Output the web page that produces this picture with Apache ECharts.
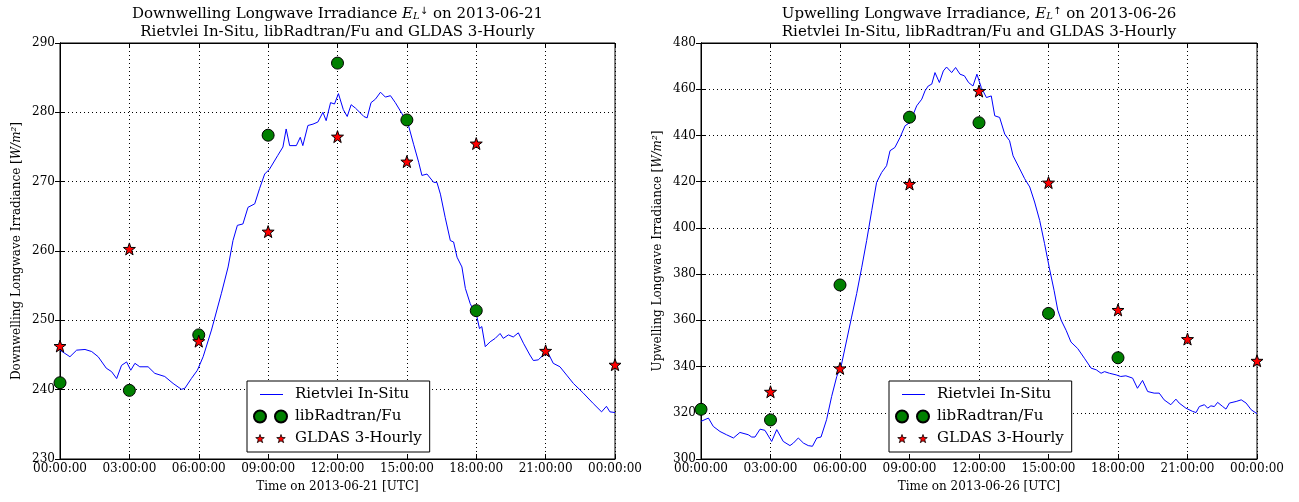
<!DOCTYPE html>
<html>
	<head>
		<meta charset="utf-8">
		<title>Longwave irradiance</title>
		<style type="text/css">
			* {
				margin: 0;
				padding: 0;
			}

			html,
			body {
				width: 100%;
				height: 100%;
				background: #fff;
			}

			#box {
				width: 1299px;
				height: 502px;
			}
		</style>
	</head>
	<body>
		<div id="box"></div>
		<script src="https://cdn.jsdelivr.net/npm/echarts@6/dist/echarts.min.js"></script>
		<script type="text/javascript">
			// hours of the 3-hourly model output
			var modelHours = [0, 3, 6, 9, 12, 15, 18, 21, 24]

			// 2013-06-21 downwelling
			var dnFu = [241.0, 239.9, 247.9, 276.7, 287.1, 278.9, 251.4, null, null]
			var dnGldas = [246.3, 260.3, 247.0, 262.8, 276.5, 272.9, 275.5, 245.6, 243.6]
			var dnTime = [0, 0.43, 0.72, 1.08, 1.37, 1.65, 2.0, 2.23, 2.45, 2.66, 2.88, 3.06, 3.24, 3.45, 3.81, 4.1, 4.53, 4.89, 5.25, 5.4,
				5.68, 5.94, 6.19, 6.55, 6.98, 7.27, 7.48, 7.67, 7.91, 8.13, 8.42, 8.63, 8.85, 9.06, 9.42, 9.64, 9.78, 9.93, 10.22, 10.39,
				10.5, 10.72, 10.94, 11.15, 11.37, 11.51, 11.7, 11.87, 12.04, 12.25, 12.42, 12.59, 12.78, 12.99, 13.14, 13.28, 13.45, 13.64,
				13.86, 14.07, 14.29, 14.5, 14.79, 15.07, 15.29, 15.51, 15.65, 15.87, 16.16, 16.3, 16.45, 16.66, 16.88, 17.02, 17.17, 17.38,
				17.53, 17.74, 18.03, 18.14, 18.24, 18.39, 18.6, 18.82, 19.03, 19.17, 19.39, 19.6, 19.82, 20.04, 20.32, 20.47, 20.68, 20.9,
				21.12, 21.33, 21.62, 21.91, 22.2, 22.63, 23.06, 23.42, 23.63, 23.78, 24
			]
			var dnInSitu = [245.7, 244.75, 245.7, 245.8, 245.5, 244.75, 243.1, 242.6, 241.6, 243.5, 244.0, 242.8, 243.8, 243.3, 243.3, 242.35,
				241.9, 240.9, 240.05, 240.2, 241.6, 242.8, 244.75, 248.6, 253.9, 257.7, 261.5, 263.7, 263.9, 266.3, 266.8, 269.0, 271.1,
				271.8, 273.8, 275.0, 277.6, 275.2, 275.2, 276.4, 275.2, 278.1, 278.3, 278.6, 280.0, 278.8, 281.4, 281.2, 282.7, 280.4,
				279.4, 281.1, 280.6, 279.9, 279.4, 279.2, 281.4, 281.9, 282.9, 282.2, 282.4, 281.4, 279.8, 278.1, 275.4, 272.8, 270.9,
				271.1, 269.9, 269.9, 268.2, 264.8, 261.5, 261.3, 259.1, 257.7, 254.6, 252.4, 250.5, 248.8, 249.1, 246.2, 246.9, 247.4,
				248.1, 247.4, 247.9, 247.6, 248.2, 246.7, 245.0, 244.2, 244.3, 245.0, 245.2, 243.8, 243.3, 242.1, 240.9, 239.5, 238.0,
				236.8, 237.6, 236.8, 236.7
			]

			// 2013-06-26 upwelling
			var upFu = [321.5, 316.9, 375.3, 447.9, 445.5, 363.0, 343.8, null, null]
			var upGldas = [null, 329.1, 339.2, 419.0, 459.2, 419.6, 364.5, 351.9, 342.5]
			var upTime = [0, 0.32, 0.53, 0.82, 1.1, 1.4, 1.68, 2.04, 2.19, 2.33, 2.55, 2.76, 3.05, 3.27, 3.55, 3.84, 3.99, 4.2, 4.42, 4.63,
				4.81, 5.0, 5.18, 5.42, 5.64, 5.86, 6.06, 6.29, 6.5, 6.72, 6.94, 7.15, 7.37, 7.58, 7.8, 8.01, 8.16, 8.37, 8.59, 8.81, 9.02,
				9.31, 9.53, 9.67, 9.81, 9.96, 10.1, 10.29, 10.46, 10.6, 10.82, 10.99, 11.18, 11.37, 11.55, 11.74, 11.91, 12.1, 12.32,
				12.53, 12.68, 12.89, 13.11, 13.32, 13.47, 13.76, 13.97, 14.19, 14.4, 14.62, 14.83, 15.03, 15.24, 15.4, 15.55, 15.76,
				15.97, 16.26, 16.55, 16.84, 17.06, 17.27, 17.42, 17.63, 17.92, 18.12, 18.34, 18.63, 18.84, 19.06, 19.28, 19.56, 19.78,
				19.99, 20.28, 20.5, 20.64, 20.93, 21.22, 21.37, 21.51, 21.73, 21.87, 22.01, 22.16, 22.3, 22.52, 22.66, 22.81, 23.1,
				23.32, 23.53, 23.75, 24
			]
			var upInSitu = [316.3, 317.7, 314.1, 311.9, 310.5, 309.1, 311.5, 310.5, 309.5, 309.5, 312.9, 312.4, 307.6, 312.7, 307.6, 305.8,
				306.9, 309.1, 306.9, 305.8, 305.5, 309.1, 309.5, 317.0, 327.1, 335.7, 340.7, 351.5, 361.4, 371.6, 383.0, 394.5, 407.5,
				419.7, 424.0, 426.9, 433.4, 434.8, 439.1, 444.2, 445.6, 452.8, 455.7, 459.3, 461.4, 462.2, 467.2, 462.9, 467.9, 469.6,
				467.2, 469.4, 466.5, 465.8, 462.9, 461.4, 466.5, 460.7, 456.4, 457.1, 448.5, 447.8, 440.6, 437.7, 431.2, 425.5, 421.3,
				417.7, 411.2, 403.2, 393.2, 383.0, 373.0, 364.4, 360.0, 355.7, 350.6, 347.8, 343.6, 339.3, 338.6, 337.1, 337.8, 337.1,
				336.4, 335.7, 336.0, 335.0, 330.6, 334.0, 329.2, 328.5, 328.5, 325.6, 323.5, 325.9, 324.2, 322.0, 320.6, 320.1, 322.7,
				323.5, 322.0, 323.0, 322.7, 324.5, 322.7, 321.6, 324.2, 324.9, 325.6, 324.2, 321.3, 319.6
			]

			var serif = 'DejaVu Serif'

			function pairs(xs, ys) {
				var out = []
				for (let i = 0; i < xs.length; i++) {
					if (ys[i] != null) out.push([xs[i], ys[i]])
				}
				return out
			}

			function starPath(cx, cy, R) {
				// five point star
				var p = []
				for (let k = 0; k < 10; k++) {
					var r = k % 2 == 0 ? R : R * 0.4
					var a = (-90 + k * 36) * Math.PI / 180
					p.push((cx + r * Math.cos(a)).toFixed(2) + ',' + (cy + r * Math.sin(a)).toFixed(2))
				}
				return 'M' + p.join('L') + 'Z'
			}

			var starIcon = 'path://' + starPath(6, 6, 6)
			// legend icons: 38x12 boxes, two marks each like matplotlib numpoints=2
			var twoStars = 'path://M0,0L0.01,0M38,12L37.99,12' + starPath(8, 6.5, 4.5) + starPath(29, 6.5, 4.5)
			var twoCircles = 'path://M0,0L0.01,0M38,12L37.99,12M2,6a6,6 0 1,0 12,0a6,6 0 1,0 -12,0ZM23,6a6,6 0 1,0 12,0a6,6 0 1,0 -12,0Z'
			var lineIcon = 'path://M0,0L0.01,0M38,12L37.99,12M8,5.5L31,5.5L31,6.5L8,6.5Z'

			function hourLabel(v) {
				var h = v % 24
				return (h < 10 ? '0' : '') + h + ':00:00'
			}

			function xAxes(grid, name) {
				return [{
					gridIndex: grid,
					type: 'value',
					min: 0,
					max: 24,
					interval: 3,
					name: name,
					nameLocation: 'middle',
					nameGap: 22,
					nameTextStyle: {
						fontFamily: serif,
						fontSize: 12,
						color: '#000'
					},
					axisLine: {
						lineStyle: {
							color: '#000'
						}
					},
					axisTick: {
						inside: true,
						length: 5,
						lineStyle: {
							color: '#000'
						}
					},
					axisLabel: {
						formatter: hourLabel,
						margin: 4,
						fontFamily: serif,
						fontSize: 12,
						color: '#000'
					},
					splitLine: {
						show: true,
						lineStyle: {
							color: '#000',
							type: [1, 3]
						}
					}
				}, {
					gridIndex: grid,
					type: 'value',
					position: 'top',
					min: 0,
					max: 24,
					interval: 3,
					axisLine: {
						lineStyle: {
							color: '#000'
						}
					},
					axisTick: {
						inside: true,
						length: 5,
						lineStyle: {
							color: '#000'
						}
					},
					axisLabel: {
						show: false
					},
					splitLine: {
						show: false
					}
				}]
			}

			function yAxes(grid, min, max, step, name) {
				return [{
					gridIndex: grid,
					type: 'value',
					min: min,
					max: max,
					interval: step,
					name: name,
					nameLocation: 'middle',
					nameGap: 37,
					nameTextStyle: {
						fontFamily: serif,
						fontSize: 12,
						color: '#000',
						rich: {
							i: {
								fontFamily: serif,
								fontStyle: 'italic',
								fontSize: 12
							}
						}
					},
					axisLine: {
						lineStyle: {
							color: '#000'
						}
					},
					axisTick: {
						inside: true,
						length: 5,
						lineStyle: {
							color: '#000'
						}
					},
					axisLabel: {
						margin: 5,
						fontFamily: serif,
						fontSize: 12,
						color: '#000'
					},
					splitLine: {
						show: true,
						lineStyle: {
							color: '#000',
							type: [1, 3]
						}
					}
				}, {
					gridIndex: grid,
					type: 'value',
					position: 'right',
					min: min,
					max: max,
					interval: step,
					axisLine: {
						show: true,
						lineStyle: {
							color: '#000'
						}
					},
					axisTick: {
						show: true,
						inside: true,
						length: 5,
						lineStyle: {
							color: '#000'
						}
					},
					axisLabel: {
						show: false
					},
					splitLine: {
						show: false
					}
				}]
			}

			function legendAt(left) {
				return {
					orient: 'vertical',
					left: left,
					top: 381,
					padding: [6, 8, 6, 4],
					itemGap: 7,
					itemWidth: 38,
					itemHeight: 12,
					borderColor: '#000',
					borderWidth: 1,
					borderRadius: 0,
					backgroundColor: '#fff',
					selectedMode: false,
					textStyle: {
						fontFamily: serif,
						fontSize: 15,
						color: '#000'
					},
					data: [{
						name: 'Rietvlei In-Situ',
						icon: lineIcon,
						itemStyle: {
							color: '#0000ff',
							borderWidth: 0
						}
					}, {
						name: 'libRadtran/Fu',
						icon: twoCircles
					}, {
						name: 'GLDAS 3-Hourly',
						icon: twoStars,
						itemStyle: {
							color: '#ff0000',
							borderColor: '#000',
							borderWidth: 0.8
						}
					}]
				}
			}

			function titleText(x, line1, line2) {
				var rich = {
					e: {
						fontFamily: serif,
						fontStyle: 'italic',
						fontSize: 15
					},
					a: {
						fontFamily: 'DejaVu Sans',
						fontSize: 10,
						verticalAlign: 'top',
						padding: [0, 5, 0, 0]
					},
					l: {
						fontFamily: serif,
						fontStyle: 'italic',
						fontSize: 10,
						verticalAlign: 'bottom'
					}
				}
				return [{
					type: 'text',
					x: x,
					y: 14,
					style: {
						text: line1,
						rich: rich,
						fontFamily: serif,
						fontSize: 15,
						fill: '#000',
						align: 'center',
						verticalAlign: 'middle'
					}
				}, {
					type: 'text',
					x: x,
					y: 32,
					style: {
						text: line2,
						fontFamily: serif,
						fontSize: 15,
						fill: '#000',
						align: 'center',
						verticalAlign: 'middle'
					}
				}]
			}

			function seriesFor(xi, yi, time, insitu, fu, gldas) {
				return [{
					name: 'Rietvlei In-Situ',
					type: 'line',
					xAxisIndex: xi,
					yAxisIndex: yi,
					data: pairs(time, insitu),
					showSymbol: false,
					symbol: 'none',
					lineStyle: {
						color: '#0000ff',
						width: 1
					},
					itemStyle: {
						color: '#0000ff'
					},
					z: 2
				}, {
					name: 'libRadtran/Fu',
					type: 'scatter',
					xAxisIndex: xi,
					yAxisIndex: yi,
					data: pairs(modelHours, fu),
					symbol: 'circle',
					symbolSize: 12,
					itemStyle: {
						color: '#008000',
						borderColor: '#000',
						borderWidth: 1,
						opacity: 1
					},
					z: 3
				}, {
					name: 'GLDAS 3-Hourly',
					type: 'scatter',
					xAxisIndex: xi,
					yAxisIndex: yi,
					data: pairs(modelHours, gldas),
					symbol: starIcon,
					symbolSize: 12,
					itemStyle: {
						color: '#ff0000',
						borderColor: '#000',
						borderWidth: 1,
						opacity: 1
					},
					z: 4
				}]
			}

			window.onload = function() {
				var myChart = echarts.init(document.getElementById('box'))
				var option = {
					animation: false,
					backgroundColor: '#fff',
					textStyle: {
						fontFamily: serif
					},
					graphic: titleText(337.5, 'Downwelling Longwave Irradiance {e|E}{l|L}{a|↓}on 2013-06-21',
							'Rietvlei In-Situ, libRadtran/Fu and GLDAS 3-Hourly')
						.concat(titleText(979, 'Upwelling Longwave Irradiance, {e|E}{l|L}{a|↑}on 2013-06-26',
							'Rietvlei In-Situ, libRadtran/Fu and GLDAS 3-Hourly')),
					grid: [{
						left: 60,
						top: 43,
						width: 555,
						height: 416,
						show: true,
						borderColor: '#000',
						borderWidth: 1,
						backgroundColor: 'transparent'
					}, {
						left: 701,
						top: 43,
						width: 556,
						height: 416,
						show: true,
						borderColor: '#000',
						borderWidth: 1,
						backgroundColor: 'transparent'
					}],
					legend: [legendAt(247), legendAt(889)],
					xAxis: xAxes(0, 'Time on 2013-06-21 [UTC]').concat(xAxes(1, 'Time on 2013-06-26 [UTC]')),
					yAxis: yAxes(0, 230, 290, 10, 'Downwelling Longwave Irradiance [{i|W/m²}]')
						.concat(yAxes(1, 300, 480, 20, 'Upwelling Longwave Irradiance [{i|W/m²}]')),
					series: seriesFor(0, 0, dnTime, dnInSitu, dnFu, dnGldas)
						.concat(seriesFor(2, 2, upTime, upInSitu, upFu, upGldas))
				}
				myChart.setOption(option)
			}
		</script>
	</body>
</html>
